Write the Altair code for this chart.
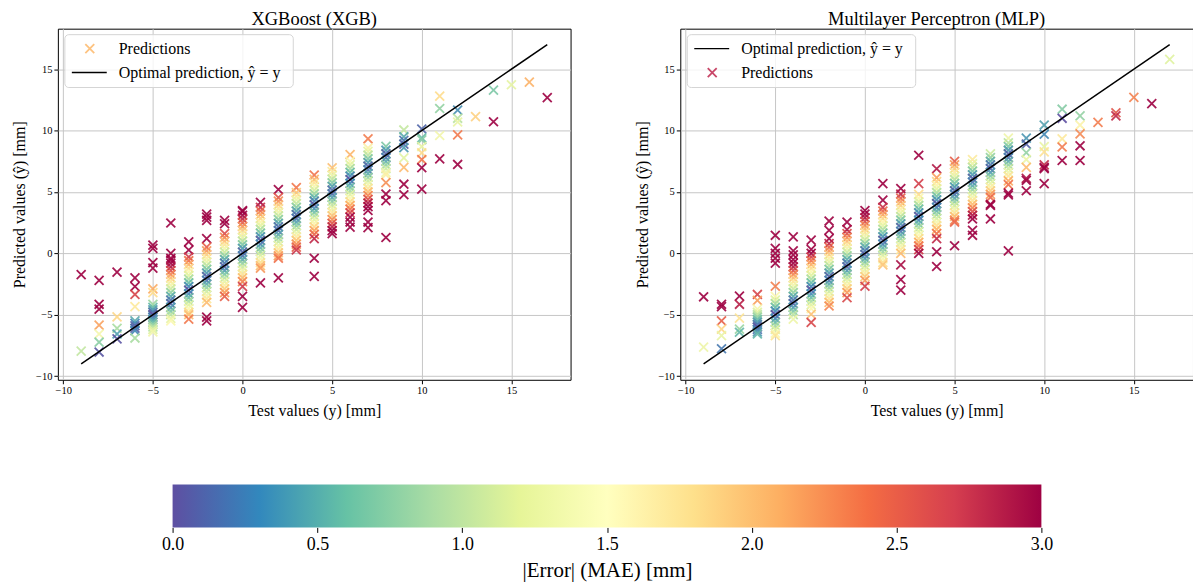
import altair as alt
import pandas as pd

FONT = "Liberation Serif"

# ---- predictions, grouped by test value (mm) ----
xgb_pred = {
    -9: [-1.74, -7.96],
    -8: [-2.2, -4.15, -4.55, -5.85, -6.57, -7.24, -8.04],
    -7: [-1.53, -5.17, -6.1, -6.57, -6.97],
    -6: [-2.0, -2.7, -3.35, -4.34, -5.5, -5.7, -5.9, -6.1, -6.3, -6.9],
    -5: [0.67, 0.4, -0.75, -1.2, -2.9, -3.2, -4.15, -4.4, -4.6, -4.8, -5.0, -5.2, -5.4,
         -5.6, -5.8, -6.0, -6.2, -6.4],
    -4: [2.47, 0.0, -0.4, -0.55, -0.8, -1.1, -1.4, -1.7, -2.0, -2.3, -2.6, -2.9, -3.2,
         -3.5, -3.8, -4.1, -4.4, -4.7, -5.0, -5.3, -5.5],
    -3: [0.94, 0.27, -0.3, -0.6, -0.9, -1.2, -1.5, -1.8, -2.1, -2.4, -2.7, -3.0, -3.3,
         -3.6, -3.9, -4.2, -4.5, -4.8, -5.0, -5.36],
    -2: [3.2, 2.95, 2.68, 1.2, 0.5, 0.2, -0.1, -0.4, -0.7, -1.0, -1.3, -1.6, -1.9, -2.2,
         -2.5, -2.8, -3.1, -3.4, -3.7, -4.0, -5.2, -5.5],
    -1: [2.68, 2.41, 1.6, 1.3, 1.0, 0.7, 0.4, 0.1, -0.2, -0.5, -0.8, -1.1, -1.4, -1.7,
         -2.0, -2.3, -2.6, -2.9, -3.2, -3.5],
    0: [3.49, 3.4, 3.1, 2.8, 2.5, 2.2, 1.9, 1.6, 1.3, 1.0, 0.7, 0.4, 0.1, -0.2, -0.5,
        -0.8, -1.1, -1.4, -1.7, -2.0, -2.3, -2.7, -3.5, -4.4],
    1: [4.15, 3.75, 3.45, 3.15, 2.85, 2.55, 2.25, 1.95, 1.65, 1.35, 1.05, 0.75, 0.45,
        0.15, -0.15, -0.45, -0.75, -1.0, -1.2, -2.4],
    2: [5.2, 4.55, 4.25, 3.95, 3.65, 3.35, 3.05, 2.75, 2.45, 2.15, 1.85, 1.55, 1.25,
        0.95, 0.65, 0.35, 0.05, -0.2, -0.4, -2.0],
    3: [5.36, 4.95, 4.65, 4.35, 4.05, 3.75, 3.45, 3.15, 2.85, 2.55, 2.25, 1.95, 1.65,
        1.35, 1.05, 0.75, 0.5, 0.27],
    4: [6.38, 6.03, 5.75, 5.45, 5.15, 4.85, 4.55, 4.25, 3.95, 3.65, 3.35, 3.05, 2.75,
        2.45, 2.15, 1.85, 1.55, 1.2, -0.4, -1.88],
    5: [6.97, 6.65, 6.35, 6.05, 5.75, 5.45, 5.15, 4.85, 4.55, 4.25, 3.95, 3.65, 3.35,
        3.05, 2.75, 2.45, 2.15, 1.85, 1.6],
    6: [8.04, 7.5, 7.2, 6.9, 6.6, 6.3, 6.0, 5.7, 5.4, 5.1, 4.8, 4.5, 4.2, 3.9, 3.6, 3.3,
        2.95, 2.55, 2.14],
    7: [9.33, 8.58, 8.3, 8.0, 7.7, 7.4, 7.1, 6.8, 6.5, 6.2, 5.9, 5.6, 5.3, 5.0, 4.7, 4.4,
        4.1, 3.8, 3.49, 2.55, 2.1],
    8: [8.71, 8.4, 8.1, 7.8, 7.5, 7.2, 6.9, 6.6, 6.4, 5.76, 4.83, 4.29, 1.29],
    9: [10.05, 9.5, 9.2, 8.9, 8.6, 7.77, 7.0, 5.63, 4.77],
    10: [10.13, 9.4, 9.25, 8.7, 8.18, 7.64, 6.97, 5.23],
    11: [12.8, 11.8, 9.6, 7.7],
    12: [11.66, 11.0, 10.7, 9.65, 7.24],
    13: [11.13],
    14: [13.3, 10.72],
    15: [13.73],
    16: [13.94],
    17: [12.68],
}

mlp_pred = {
    -9: [-3.54, -7.64],
    -8: [-4.15, -4.34, -5.5, -6.17, -6.7, -7.77],
    -7: [-3.49, -4.15, -5.28, -6.17, -6.43],
    -6: [-3.35, -3.83, -4.55, -4.8, -5.0, -5.2, -5.4, -5.6, -5.8, -6.0, -6.2, -6.4, -6.57],
    -5: [1.47, 0.4, 0.0, -0.4, -0.8, -2.68, -3.5, -3.8, -4.1, -4.4, -4.7, -5.0, -5.3,
         -5.6, -5.9, -6.2, -6.5, -6.7],
    -4: [1.34, 0.2, -0.13, -0.5, -0.8, -1.1, -1.4, -1.7, -2.0, -2.3, -2.6, -2.9, -3.2,
         -3.5, -3.8, -4.1, -4.4, -4.7, -5.0, -5.36],
    -3: [1.07, 0.32, 0.0, -0.3, -0.6, -0.9, -1.2, -1.5, -1.8, -2.1, -2.4, -2.7, -3.0,
         -3.3, -3.6, -3.9, -4.2, -4.5, -4.96, -5.63],
    -2: [2.63, 1.88, 1.2, 0.8, 0.5, 0.2, -0.1, -0.4, -0.7, -1.0, -1.3, -1.6, -1.9, -2.2,
         -2.5, -2.8, -3.1, -3.4, -3.7, -4.0, -4.29],
    -1: [2.55, 1.93, 1.6, 1.3, 1.0, 0.7, 0.4, 0.1, -0.2, -0.5, -0.8, -1.1, -1.4, -1.7,
         -2.0, -2.3, -2.6, -2.9, -3.2, -3.62],
    0: [3.49, 3.2, 2.9, 2.6, 2.3, 2.0, 1.7, 1.4, 1.1, 0.8, 0.5, 0.2, -0.1, -0.4, -0.7,
        -1.0, -1.3, -1.6, -1.9, -2.2, -2.68],
    1: [5.68, 4.34, 3.75, 3.45, 3.15, 2.85, 2.55, 2.25, 1.95, 1.65, 1.35, 1.05, 0.75,
        0.45, 0.15, -0.15, -0.45, -0.75, -0.94],
    2: [5.28, 4.83, 4.5, 4.2, 3.9, 3.6, 3.3, 3.0, 2.7, 2.4, 2.1, 1.8, 1.5, 1.2, 0.9, 0.6,
        0.3, 0.0, -0.94, -2.14, -3.0],
    3: [7.99, 5.68, 4.8, 4.5, 4.2, 3.9, 3.6, 3.3, 3.0, 2.7, 2.4, 2.1, 1.8, 1.5, 1.2, 0.9,
        0.6, 0.3, 0.0],
    4: [6.89, 6.17, 5.85, 5.55, 5.25, 4.95, 4.65, 4.35, 4.05, 3.75, 3.45, 3.15, 2.85,
        2.55, 2.25, 1.95, 1.6, 1.2, 0.13, -1.07],
    5: [7.5, 7.2, 6.9, 6.6, 6.3, 6.0, 5.7, 5.4, 5.1, 4.8, 4.5, 4.2, 3.9, 3.6, 3.3, 3.0,
        2.7, 2.55, 0.62],
    6: [7.64, 7.3, 7.0, 6.7, 6.4, 6.1, 5.8, 5.5, 5.2, 4.9, 4.6, 4.3, 4.0, 3.7, 3.4, 3.1,
        2.8, 1.88, 1.47],
    7: [8.1, 7.8, 7.5, 7.2, 6.9, 6.6, 6.3, 6.0, 5.7, 5.4, 5.1, 4.8, 4.56, 4.0, 3.9, 2.8],
    8: [9.38, 9.0, 8.7, 8.4, 8.1, 7.8, 7.5, 7.2, 6.9, 6.6, 6.3, 5.9, 5.6, 4.9, 4.75, 0.2],
    9: [9.38, 8.9, 8.2, 7.64, 7.0, 6.1, 5.95, 5.1],
    10: [10.45, 9.7, 8.7, 8.26, 7.2, 7.0, 6.9, 5.68],
    11: [11.74, 11.0, 9.33, 8.66, 7.56],
    12: [11.2, 10.45, 9.73, 8.76, 7.56],
    13: [10.67],
    14: [11.45, 11.2],
    15: [12.7],
    16: [12.2],
    17: [15.8],
}

optimal_line = [-9, 17]
axis_ticks = [-10, -5, 0, 5, 10, 15]
cbar_ticks = [0.0, 0.5, 1.0, 1.5, 2.0, 2.5, 3.0]
# ColorBrewer "Spectral" (reversed) stops for the colour bar
spectral_r = ["#5e4fa2", "#3288bd", "#66c2a5", "#abdda4", "#e6f598", "#ffffbf",
              "#fee08b", "#fdae61", "#f46d43", "#d53e4f", "#9e0142"]


def to_frame(cols):
    rows = []
    for yt, preds in cols.items():
        for p in preds:
            rows.append({"y": yt, "pred": p, "err": abs(p - yt)})
    return pd.DataFrame(rows)


xgb_df = to_frame(xgb_pred)
mlp_df = to_frame(mlp_pred)
line_df = pd.DataFrame({"y": optimal_line, "pred": optimal_line})
one = pd.DataFrame({"k": [0]})

XPATH = "M-1,-1L1,1M-1,1L1,-1"
W, H = 514, 352
MSIZE, MSTROKE = 80, 1.8

xscale = alt.Scale(domain=[-10.3, 18.3], nice=False, zero=False)
yscale = alt.Scale(domain=[-10.3, 18.3], nice=False, zero=False)

xenc = alt.X("y:Q", scale=xscale,
             axis=alt.Axis(values=axis_ticks, title="Test values (y) [mm]",
                           titleX=W / 2, titleY=31, titleBaseline="middle"))
yenc = alt.Y("pred:Q", scale=yscale,
             axis=alt.Axis(values=axis_ticks, title="Predicted values (ŷ) [mm]",
                           titleX=-38, titleY=H / 2, titleBaseline="middle",
                           titleAngle=-90))

color = alt.Color("err:Q",
                  scale=alt.Scale(scheme="spectral", reverse=True, domain=[0, 3],
                                  clamp=True),
                  legend=None)


def panel(df, title, pred_first, marker_color):
    pts = alt.Chart(df).mark_point(shape=XPATH, filled=False, size=MSIZE,
                                   strokeWidth=MSTROKE, opacity=0.9).encode(
        x=xenc, y=yenc, color=color)
    line = alt.Chart(line_df).mark_line(color="black", strokeWidth=1.5).encode(
        x=xenc, y=yenc)
    base = alt.Chart(one)
    ttl = base.mark_text(align="center", baseline="alphabetic", font=FONT,
                         fontSize=18.5, color="black").encode(
        x=alt.value(W / 2), y=alt.value(-4), text=alt.value(title))
    box = base.mark_rect(cornerRadius=4, fill="white", fillOpacity=0.8,
                         stroke="#d5d5d5", strokeWidth=1).encode(
        x=alt.value(7), x2=alt.value(236), y=alt.value(6), y2=alt.value(59))
    row_pred = 20 if pred_first else 44
    row_line = 44 if pred_first else 20
    mk = base.mark_point(shape=XPATH, filled=False, size=MSIZE, strokeWidth=MSTROKE,
                         color=marker_color, opacity=0.85).encode(
        x=alt.value(32), y=alt.value(row_pred))
    ln = base.mark_rule(color="black", strokeWidth=1.5).encode(
        x=alt.value(14), x2=alt.value(49), y=alt.value(row_line))
    t1 = base.mark_text(align="left", baseline="middle", font=FONT, fontSize=16,
                        color="black").encode(
        x=alt.value(61), y=alt.value(row_pred), text=alt.value("Predictions"))
    t2 = base.mark_text(align="left", baseline="middle", font=FONT, fontSize=16,
                        color="black").encode(
        x=alt.value(61), y=alt.value(row_line),
        text=alt.value("Optimal prediction, ŷ = y"))
    return alt.layer(pts, line, ttl, box, mk, ln, t1, t2).properties(
        width=W, height=H)


left = panel(xgb_df, "XGBoost (XGB)", True, "#fdb96b")
right = panel(mlp_df, "Multilayer Perceptron (MLP)", False, "#c0284f")

grad = alt.LinearGradient(
    gradient="linear", x1=0, x2=1, y1=0, y2=0,
    stops=[alt.GradientStop(color=c, offset=i / (len(spectral_r) - 1))
           for i, c in enumerate(spectral_r)])

CB_START, CB_END = 115, 986   # pixel span of the colour bar inside its view
cbar = alt.Chart(one).mark_rect(color=grad).encode(
    x=alt.X("lo:Q", scale=alt.Scale(domain=[0, 3], nice=False, zero=False,
                                    range=[CB_START, CB_END]),
            axis=alt.Axis(values=cbar_ticks, format=".1f", grid=False,
                          labelFlush=False,
                          title="|Error| (MAE) [mm]", titleFontSize=21,
                          labelFontSize=18, tickSize=5, labelPadding=3,
                          titlePadding=6)),
    x2="hi:Q",
).transform_calculate(lo="0", hi="3").properties(
    width=CB_END, height=43, view=alt.ViewBackground(stroke="transparent"))

top = alt.hconcat(left, right, spacing=62)

chart = alt.vconcat(top, cbar, spacing=64).properties(
    padding={"left": 3, "top": 0, "right": -1, "bottom": 0}
).configure_view(stroke="black", strokeWidth=1).configure_axis(
    grid=True, gridColor="#c6c6c6", gridWidth=1, domain=False, labelFlush=False,
    tickColor="black", tickSize=4, tickWidth=1, labelPadding=2,
    labelFont=FONT, labelFontSize=10.5, labelColor="black",
    titleFont=FONT, titleFontSize=16, titleFontWeight="normal", titleColor="black"
)

chart.save("out.html", embed_options={"renderer": "svg", "actions": False})
